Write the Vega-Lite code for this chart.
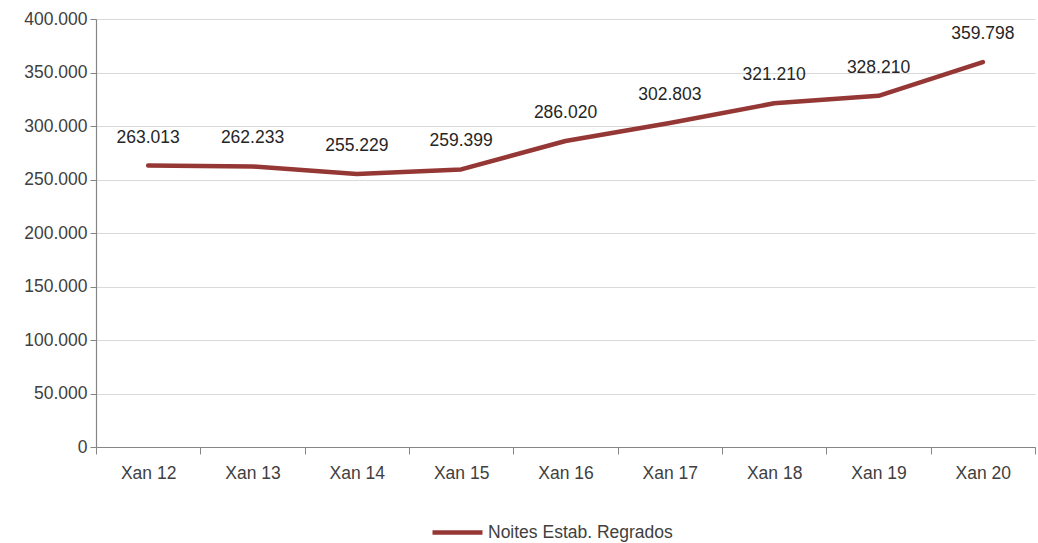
{
  "$schema": "https://vega.github.io/schema/vega-lite/v6.json",
  "width": 939,
  "height": 428,
  "autosize": {"type": "none"},
  "padding": {"left": 96, "top": 19, "right": 3, "bottom": 96},
  "config": {
    "locale": {"number": {"decimal": ",", "thousands": ".", "grouping": [3], "currency": ["", " €"]}},
    "view": {"stroke": null},
    "font": "Liberation Sans",
    "axis": {"labelFont": "Liberation Sans", "labelFontSize": 17.5, "labelColor": "#404040", "domainColor": "#868686", "tickColor": "#868686", "gridColor": "#d9d9d9", "title": null}
  },
  "data": {
    "values": [
      {"mes": "Xan 12", "valor": 263013, "serie": "Noites Estab. Regrados"},
      {"mes": "Xan 13", "valor": 262233, "serie": "Noites Estab. Regrados"},
      {"mes": "Xan 14", "valor": 255229, "serie": "Noites Estab. Regrados"},
      {"mes": "Xan 15", "valor": 259399, "serie": "Noites Estab. Regrados"},
      {"mes": "Xan 16", "valor": 286020, "serie": "Noites Estab. Regrados"},
      {"mes": "Xan 17", "valor": 302803, "serie": "Noites Estab. Regrados"},
      {"mes": "Xan 18", "valor": 321210, "serie": "Noites Estab. Regrados"},
      {"mes": "Xan 19", "valor": 328210, "serie": "Noites Estab. Regrados"},
      {"mes": "Xan 20", "valor": 359798, "serie": "Noites Estab. Regrados"}
    ]
  },
  "encoding": {
    "x": {
      "field": "mes", "type": "ordinal", "sort": null,
      "scale": {"type": "band", "paddingInner": 0, "paddingOuter": 0},
      "axis": {"labelAngle": 0, "tickBand": "extent", "tickSize": 7, "labelPadding": 10, "grid": false, "domainWidth": 1.2}
    },
    "y": {
      "field": "valor", "type": "quantitative",
      "scale": {"domain": [0, 400000], "nice": false},
      "axis": {"values": [0, 50000, 100000, 150000, 200000, 250000, 300000, 350000, 400000], "format": ",.0f", "tickSize": 6, "labelPadding": 3, "grid": true, "domainWidth": 1.2}
    }
  },
  "layer": [
    {
      "mark": {"type": "line", "strokeWidth": 4.5, "strokeCap": "round", "strokeJoin": "round"},
      "encoding": {
        "color": {
          "field": "serie", "type": "nominal",
          "scale": {"range": ["#953735"]},
          "legend": {"title": null, "orient": "none", "legendX": 334, "legendY": 486, "symbolType": "stroke", "symbolSize": 2500, "symbolStrokeWidth": 4.5, "labelFontSize": 17.5, "labelColor": "#404040", "labelFont": "Liberation Sans", "labelOffset": 3, "labelLimit": 400}
        }
      }
    },
    {
      "mark": {"type": "text", "dy": -28, "fontSize": 17.5, "color": "#262626", "font": "Liberation Sans"},
      "encoding": {
        "text": {"field": "valor", "type": "quantitative", "format": ",.0f"}
      }
    }
  ]
}
